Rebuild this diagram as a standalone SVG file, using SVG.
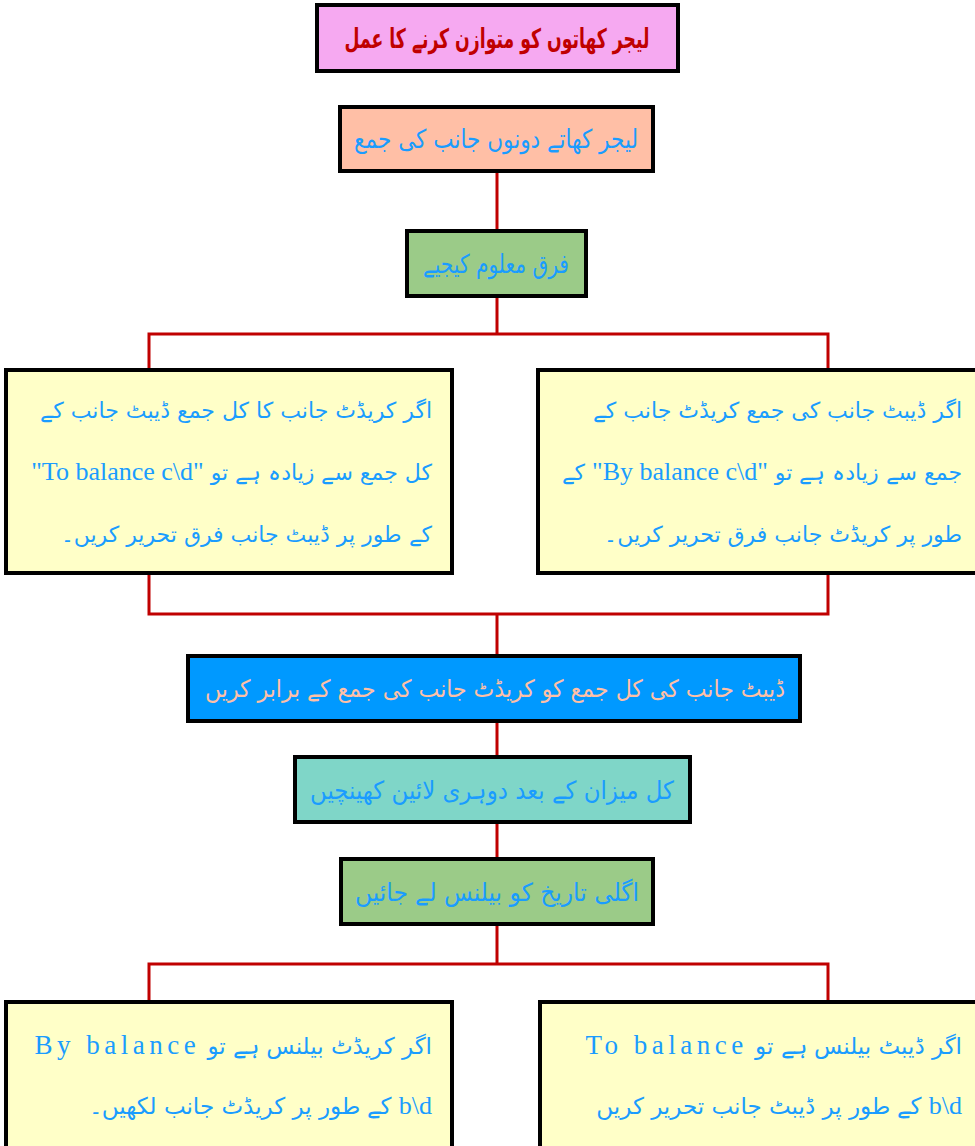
<svg xmlns="http://www.w3.org/2000/svg" width="975" height="1146" viewBox="0 0 975 1146">
<style>
.box{stroke:#000;stroke-width:4}
.ur{font-family:"DejaVu Sans",sans-serif;direction:rtl}
.en{font-family:"Liberation Serif",serif}
.bl{fill:#1A9CFF}
.pk{fill:#F6A9F1}.pe{fill:#FFBFA6}.gr{fill:#9BCB88}.ye{fill:#FFFFC8}.bu{fill:#0099FF}.te{fill:#7FD6C8}
.conn{fill:none;stroke:#C00000;stroke-width:3}
</style>
<g id="connectors">
<path class="conn" d="M497 171V231M497 296V334M149 370V334H828V370M149 573V614H828V573M497 614V656M497 721V757M497 822V859M497 924V964M149 1002V964H828V1002"/>
</g>
<g id="title">
<rect class="box pk" x="317" y="5" width="361" height="66"/>
<text class="ur" x="497" y="48" text-anchor="middle" fill="#C00000" font-weight="bold" font-size="27" textLength="305" lengthAdjust="spacingAndGlyphs">لیجر کھاتوں کو متوازن کرنے کا عمل</text>
</g>
<g id="sum">
<rect class="box pe" x="340" y="107" width="313" height="64"/>
<text class="ur bl" x="496" y="148" text-anchor="middle" font-size="26" textLength="284" lengthAdjust="spacingAndGlyphs">لیجر کھاتے دونوں جانب کی جمع</text>
</g>
<g id="diff">
<rect class="box gr" x="407" y="231" width="179" height="65"/>
<text class="ur bl" x="496" y="273" text-anchor="middle" font-size="26" textLength="146" lengthAdjust="spacingAndGlyphs">فرق معلوم کیجیے</text>
</g>
<g id="credit-more">
<rect class="box ye" x="6" y="370" width="446" height="203"/>
<text class="ur bl" x="432" y="418" text-anchor="start" font-size="22">اگر کریڈٹ جانب کا کل جمع ڈیبٹ جانب کے</text>
<text class="ur bl" x="432" y="480" text-anchor="start" font-size="22">کل جمع سے زیادہ ہے تو <tspan class="en" font-size="26">"To balance c\d"</tspan></text>
<text class="ur bl" x="432" y="542" text-anchor="start" font-size="22">کے طور پر ڈیبٹ جانب فرق تحریر کریں۔</text>
</g>
<g id="debit-more">
<rect class="box ye" x="538" y="370" width="445" height="203"/>
<text class="ur bl" x="962" y="418" text-anchor="start" font-size="22">اگر ڈیبٹ جانب کی جمع کریڈٹ جانب کے</text>
<text class="ur bl" x="962" y="480" text-anchor="start" font-size="22">جمع سے زیادہ ہے تو <tspan class="en" font-size="26">"By balance c\d"</tspan> کے</text>
<text class="ur bl" x="962" y="542" text-anchor="start" font-size="22">طور پر کریڈٹ جانب فرق تحریر کریں۔</text>
</g>
<g id="equalize">
<rect class="box bu" x="188" y="656" width="612" height="65"/>
<text class="ur" x="495" y="697" text-anchor="middle" fill="#FFC0A6" font-size="24" textLength="580" lengthAdjust="spacingAndGlyphs">ڈیبٹ جانب کی کل جمع کو کریڈٹ جانب کی جمع کے برابر کریں</text>
</g>
<g id="double-line">
<rect class="box te" x="295" y="757" width="395" height="65"/>
<text class="ur bl" x="492" y="799" text-anchor="middle" font-size="25" textLength="364" lengthAdjust="spacingAndGlyphs">کل میزان کے بعد دوہری لائین کھینچیں</text>
</g>
<g id="carry">
<rect class="box gr" x="341" y="859" width="312" height="65"/>
<text class="ur bl" x="497" y="901" text-anchor="middle" font-size="25" textLength="284" lengthAdjust="spacingAndGlyphs">اگلی تاریخ کو بیلنس لے جائیں</text>
</g>
<g id="credit-balance">
<rect class="box ye" x="6" y="1002" width="446" height="146"/>
<text class="ur bl" x="432" y="1054" text-anchor="start" font-size="23">اگر کریڈٹ بیلنس ہے تو <tspan class="en" font-size="27" letter-spacing="4.5">By balance</tspan></text>
<text class="ur bl" x="432" y="1114" text-anchor="start" font-size="23"><tspan class="en" font-size="26">b\d</tspan> کے طور پر کریڈٹ جانب لکھیں۔</text>
</g>
<g id="debit-balance">
<rect class="box ye" x="540" y="1002" width="445" height="146"/>
<text class="ur bl" x="962" y="1054" text-anchor="start" font-size="23">اگر ڈیبٹ بیلنس ہے تو <tspan class="en" font-size="27" letter-spacing="4.5">To balance</tspan></text>
<text class="ur bl" x="962" y="1114" text-anchor="start" font-size="23"><tspan class="en" font-size="26">b\d</tspan> کے طور پر ڈیبٹ جانب تحریر کریں</text>
</g>
</svg>
